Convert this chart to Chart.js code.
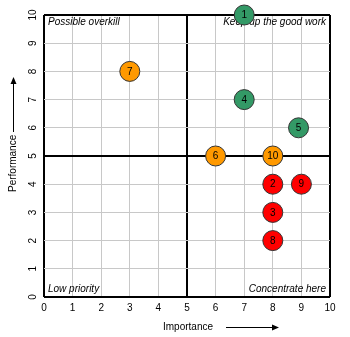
<!DOCTYPE html>
<html>
<head>
<meta charset="utf-8">
<script src="https://cdn.jsdelivr.net/npm/chart.js@4/dist/chart.umd.min.js"></script>
<style>
html,body{margin:0;padding:0;background:#fff;}
#wrap{width:350px;height:337px;position:relative;}
</style>
</head>
<body>
<div id="wrap"><canvas id="c" width="350" height="337"></canvas></div>
<script>
const pointLabels = ['1','2','3','4','5','6','7','8','9','10'];
const importance = [7, 8, 8, 7, 8.9, 6, 3, 8, 9, 8];
const performance = [10, 4, 3, 7, 6, 5, 8, 2, 4, 5];
const status = ['good','bad','bad','good','good','mid','mid','bad','bad','mid'];
const statusColors = {good:'#339966', mid:'#ff9900', bad:'#ff0000'};
const tickValues = [0,1,2,3,4,5,6,7,8,9,10];
const quadrantLabels = ['Possible overkill','Keep up the good work','Low priority','Concentrate here'];
const xTitle = 'Importance';
const yTitle = 'Performance';

const FONT = '"Liberation Sans", Arial, sans-serif';

const points = importance.map((x,i)=>({x:x, y:performance[i]}));

const isMajor = v => v===0||v===5||v===10;
const gridColor = ctx => (ctx.tick && isMajor(ctx.tick.value)) ? '#000' : '#c8c8c8';
const gridWidth = ctx => (ctx.tick && isMajor(ctx.tick.value)) ? 2 : 1;

const overlay = {
  id:'overlay',
  beforeDatasetsDraw(chart){
    const {ctx, chartArea:a} = chart;
    ctx.save();
    ctx.fillStyle = '#000';
    ctx.font = 'italic 10px ' + FONT;
    ctx.textBaseline = 'alphabetic';
    ctx.textAlign = 'left';
    ctx.fillText(quadrantLabels[0], a.left+4, a.top+10);
    ctx.fillText(quadrantLabels[2], a.left+4, a.bottom-5);
    ctx.textAlign = 'right';
    ctx.fillText(quadrantLabels[1], a.right-4, a.top+10);
    ctx.fillText(quadrantLabels[3], a.right-4, a.bottom-5);
    ctx.restore();
  },
  afterDatasetsDraw(chart){
    const {ctx} = chart;
    const meta = chart.getDatasetMeta(0);
    ctx.save();
    ctx.fillStyle = '#000';
    ctx.font = '10px ' + FONT;
    ctx.textAlign = 'center';
    ctx.textBaseline = 'middle';
    meta.data.forEach((el,i)=>{
      ctx.fillText(pointLabels[i], el.x, el.y+0.5);
    });
    ctx.restore();
  },
  afterDraw(chart){
    const {ctx} = chart;
    ctx.save();
    ctx.fillStyle = '#000';
    ctx.strokeStyle = '#000';
    ctx.lineWidth = 1;
    ctx.font = '10px ' + FONT;
    ctx.textAlign = 'left';
    ctx.textBaseline = 'middle';
    // x title
    const yt = 327;
    ctx.fillText(xTitle, 163, yt);
    ctx.beginPath(); ctx.moveTo(226, yt+0.5); ctx.lineTo(274, yt+0.5); ctx.stroke();
    ctx.beginPath(); ctx.moveTo(279, yt+0.5); ctx.lineTo(272, yt-2.5); ctx.lineTo(272, yt+3.5); ctx.closePath(); ctx.fill();
    // y title
    ctx.translate(13, 192);
    ctx.rotate(-Math.PI/2);
    ctx.fillText(yTitle, 0, 0);
    ctx.beginPath(); ctx.moveTo(60, 0.5); ctx.lineTo(110, 0.5); ctx.stroke();
    ctx.beginPath(); ctx.moveTo(115, 0.5); ctx.lineTo(108, -2.5); ctx.lineTo(108, 3.5); ctx.closePath(); ctx.fill();
    ctx.restore();
  }
};

new Chart(document.getElementById('c'), {
  type:'scatter',
  data:{
    datasets:[{
      data: points,
      pointRadius: 10,
      pointHoverRadius: 10,
      pointBackgroundColor: status.map(s=>statusColors[s]),
      pointBorderColor: '#333',
      pointBorderWidth: 1,
      clip: false
    }]
  },
  options:{
    responsive:false,
    animation:false,
    events:[],
    layout:{padding:{top:15, right:20, left:0, bottom:0}},
    plugins:{legend:{display:false}, tooltip:{enabled:false}},
    scales:{
      x:{
        type:'linear', min:0, max:10,
        afterBuildTicks: s => { s.ticks = tickValues.map(v=>({value:v})); },
        afterFit: s => { s.height = 40; },
        grid:{color:gridColor, lineWidth:gridWidth, drawTicks:false},
        border:{display:false},
        ticks:{color:'#000', font:{family:FONT, size:10}, padding:5, maxRotation:0}
      },
      y:{
        type:'linear', min:0, max:10,
        afterBuildTicks: s => { s.ticks = tickValues.map(v=>({value:v})); },
        afterFit: s => { s.width = 44; },
        grid:{color:gridColor, lineWidth:gridWidth, drawTicks:false},
        border:{display:false},
        ticks:{color:'#000', font:{family:FONT, size:10}, padding:5, minRotation:90, maxRotation:90, crossAlign:'center'}
      }
    }
  },
  plugins:[overlay]
});
</script>
</body>
</html>
